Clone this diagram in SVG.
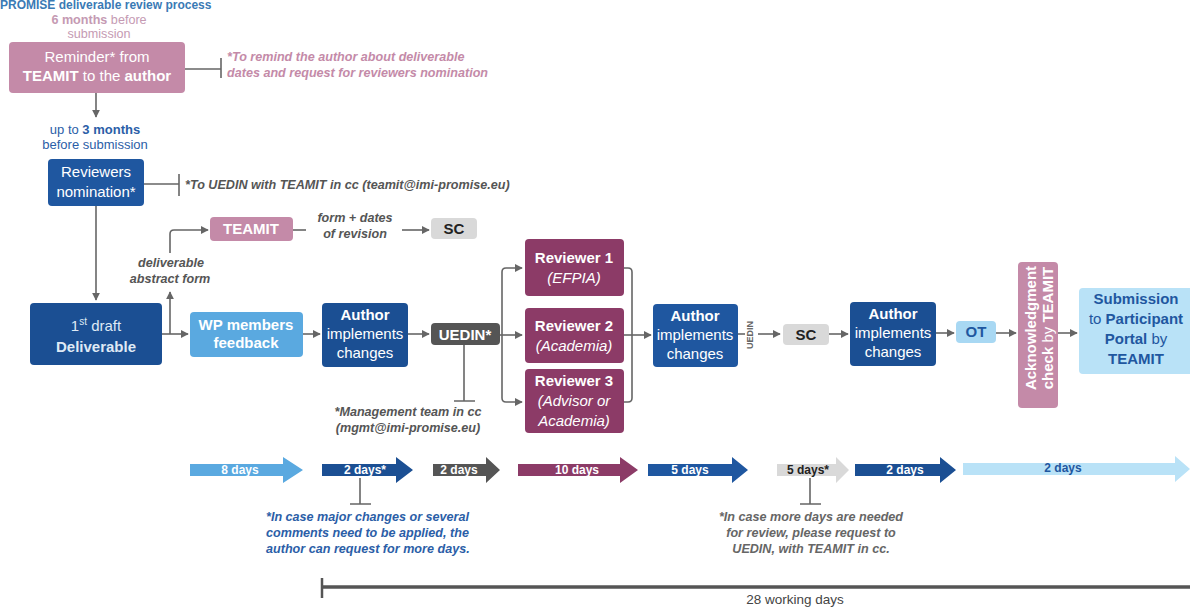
<svg xmlns="http://www.w3.org/2000/svg" width="1190" height="607" viewBox="0 0 1190 607">
<defs>
<style>
text{font-family:"Liberation Sans",Arial,sans-serif}
.b{font-weight:bold}
.box{font-size:15px;fill:#fff;text-anchor:middle}
.note{font-size:12.6px;font-style:italic;font-weight:bold}
.con{fill:none;stroke:#666;stroke-width:1.6}
.tl{fill:#fff;font-size:12px;font-weight:bold;text-anchor:middle}
</style>
<marker id="ah" viewBox="0 0 10 10" refX="9" refY="5" markerWidth="5" markerHeight="5" orient="auto" markerUnits="strokeWidth">
<path d="M0,0 L10,5 L0,10 Z" fill="#666"/>
</marker>
</defs>
<rect width="1190" height="607" fill="#fff"/>
<text x="0" y="9" font-size="12" class="b" fill="#3a7ab5">PROMISE deliverable review process</text>

<g id="connectors">
<path class="con" d="M96 93 V117" marker-end="url(#ah)"/>
<path class="con" d="M185 69 H221 M221 58 V78"/>
<path class="con" d="M144 184 H179 M179 174 V196"/>
<path class="con" d="M96 206 V300" marker-end="url(#ah)"/>
<path class="con" d="M162 334 H188" marker-end="url(#ah)"/>
<path class="con" d="M170 334 V292" marker-end="url(#ah)"/>
<path class="con" d="M170 253 V234 Q170 230 174 230 H208" marker-end="url(#ah)"/>
<path class="con" d="M293 230 H306"/>
<path class="con" d="M402 230 H429" marker-end="url(#ah)"/>
<path class="con" d="M303 334 H320" marker-end="url(#ah)"/>
<path class="con" d="M408 334 H429" marker-end="url(#ah)"/>
<path class="con" d="M464 345 V401 M454 401 H475"/>
<path class="con" d="M500 335 H522" marker-end="url(#ah)"/>
<path class="con" d="M502 335 V272 Q502 268 506 268 H522" marker-end="url(#ah)"/>
<path class="con" d="M502 335 V398 Q502 402 506 402 H522" marker-end="url(#ah)"/>
<path class="con" d="M624 268 H628 Q632 268 632 272 V398 Q632 402 628 402 H624"/>
<path class="con" d="M624 335 H651" marker-end="url(#ah)"/>
<path class="con" d="M738 334 H745"/>
<path class="con" d="M758 334 H780" marker-end="url(#ah)"/>
<path class="con" d="M829 334 H848" marker-end="url(#ah)"/>
<path class="con" d="M936 333 H954" marker-end="url(#ah)"/>
<path class="con" d="M996 333 H1016" marker-end="url(#ah)"/>
<path class="con" d="M1058 333 H1077" marker-end="url(#ah)"/>
<path class="con" d="M360 478 V504 M350 504 H371"/>
<path class="con" d="M810 478 V504 M800 504 H821"/>
</g>

<text x="99" y="24" font-size="12.6" text-anchor="middle" fill="#c59ab3"><tspan class="b">6 months</tspan> before</text>
<text x="99" y="38" font-size="12.6" text-anchor="middle" fill="#c59ab3">submission</text>

<g id="reminder">
<rect x="9" y="42" width="176" height="51" rx="4" fill="#c48aa8"/>
<text class="box" x="97" y="62" font-size="15.5">Reminder* from</text>
<text class="box" x="97" y="81" font-size="15.5"><tspan class="b">TEAMIT</tspan> to the <tspan class="b">author</tspan></text>
</g>
<text class="note" x="227" y="61" fill="#c48aa8">*To remind the author about deliverable</text>
<text class="note" x="227" y="77" fill="#c48aa8">dates and request for reviewers nomination</text>

<text x="95" y="134" font-size="13" text-anchor="middle" fill="#2b5ea7">up to <tspan class="b">3 months</tspan></text>
<text x="95" y="149" font-size="13" text-anchor="middle" fill="#2b5ea7">before submission</text>

<g id="reviewers-nomination">
<rect x="48" y="159" width="96" height="47" rx="4" fill="#1f57a0"/>
<text class="box" x="96" y="177">Reviewers</text>
<text class="box" x="96" y="197">nomination*</text>
</g>
<text class="note" x="185" y="189" fill="#555">*To UEDIN with TEAMIT in cc (teamit@imi-promise.eu)</text>

<g id="teamit">
<rect x="210" y="217" width="83" height="24" rx="4" fill="#c48aa8"/>
<text class="box b" x="251" y="234">TEAMIT</text>
</g>
<text class="note" x="355" y="222" text-anchor="middle" fill="#555">form + dates</text>
<text class="note" x="355" y="238" text-anchor="middle" fill="#555">of revision</text>
<g id="sc1">
<rect x="431" y="218" width="46" height="21" rx="4" fill="#d9d9d9"/>
<text class="box b" x="454" y="234" style="fill:#222">SC</text>
</g>
<text class="note" x="171" y="267" text-anchor="middle" fill="#555">deliverable</text>
<text class="note" x="170" y="283" text-anchor="middle" fill="#555">abstract form</text>

<g id="deliverable">
<rect x="30" y="303" width="132" height="62" rx="4" fill="#1b4f93"/>
<text class="box" x="96" y="331" style="fill:#dfe9f5" font-size="16.5">1<tspan font-size="10" dy="-6">st</tspan><tspan dy="6"> draft</tspan></text>
<text class="box b" x="96" y="352" style="fill:#dfe9f5" font-size="16.5">Deliverable</text>
</g>

<g id="wp-feedback">
<rect x="190" y="312" width="113" height="45" rx="4" fill="#5aa9e0"/>
<text class="box b" x="246" y="330">WP members</text>
<text class="box b" x="246" y="348">feedback</text>
</g>

<g id="author1">
<rect x="322" y="303" width="86" height="64" rx="4" fill="#1b4f93"/>
<text class="box b" x="365" y="320">Author</text>
<text class="box" x="365" y="339">implements</text>
<text class="box" x="365" y="358">changes</text>
</g>

<g id="uedin">
<rect x="431" y="323" width="69" height="22" rx="4" fill="#555"/>
<text class="box b" x="465" y="340">UEDIN*</text>
</g>
<text class="note" x="408" y="416" text-anchor="middle" fill="#555">*Management team in cc</text>
<text class="note" x="408" y="432" text-anchor="middle" fill="#555">(mgmt@imi-promise.eu)</text>

<g id="reviewer1">
<rect x="525" y="239" width="99" height="57" rx="4" fill="#8c3b67"/>
<text class="box b" x="574" y="263">Reviewer 1</text>
<text class="box" x="574" y="283" font-style="italic">(EFPIA)</text>
</g>
<g id="reviewer2">
<rect x="525" y="308" width="99" height="55" rx="4" fill="#8c3b67"/>
<text class="box b" x="574" y="331">Reviewer 2</text>
<text class="box" x="574" y="351" font-style="italic">(Academia)</text>
</g>
<g id="reviewer3">
<rect x="525" y="369" width="99" height="64" rx="4" fill="#8c3b67"/>
<text class="box b" x="574" y="386">Reviewer 3</text>
<text class="box" x="574" y="406" font-style="italic">(Advisor or</text>
<text class="box" x="574" y="426" font-style="italic">Academia)</text>
</g>

<g id="author2">
<rect x="653" y="304" width="85" height="63" rx="4" fill="#1f57a0"/>
<text class="box b" x="695" y="321">Author</text>
<text class="box" x="695" y="340">implements</text>
<text class="box" x="695" y="359">changes</text>
</g>
<text transform="translate(753,335) rotate(-90)" font-size="9" class="b" fill="#666" text-anchor="middle">UEDIN</text>

<g id="sc2">
<rect x="783" y="324" width="46" height="21" rx="4" fill="#d9d9d9"/>
<text class="box b" x="806" y="340" style="fill:#222">SC</text>
</g>

<g id="author3">
<rect x="850" y="302" width="86" height="64" rx="4" fill="#1b4f93"/>
<text class="box b" x="893" y="319">Author</text>
<text class="box" x="893" y="338">implements</text>
<text class="box" x="893" y="357">changes</text>
</g>

<g id="ot">
<rect x="956" y="321" width="40" height="22" rx="4" fill="#a8d8f3"/>
<text class="box b" x="976" y="337" style="fill:#1f57a0">OT</text>
</g>

<g id="acknowledgment">
<rect x="1018" y="262" width="40" height="146" rx="4" fill="#c48aa8"/>
<text transform="translate(1038,328) rotate(-90)" class="box b"><tspan x="0" y="-2">Acknowledgment</tspan><tspan x="0" y="15">check <tspan font-weight="normal">by</tspan> TEAMIT</tspan></text>
</g>

<g id="submission">
<rect x="1079" y="288" width="115" height="86" rx="4" fill="#b9e2f7"/>
<text class="box b" x="1136" y="304" style="fill:#1f57a0" font-size="15.5">Submission</text>
<text class="box" x="1136" y="324" style="fill:#1f57a0" font-size="15.5">to <tspan class="b">Participant</tspan></text>
<text class="box" x="1136" y="344" style="fill:#1f57a0" font-size="15.5"><tspan class="b">Portal</tspan> by</text>
<text class="box b" x="1136" y="364" style="fill:#1f57a0" font-size="15.5">TEAMIT</text>
</g>

<g id="timeline">
<path d="M190 464 H283 V457 L303 470 L283 483 V476 H190 Z" fill="#5aa9e0"/>
<text class="tl" x="240" y="474">8 days</text>
<path d="M322 464 H396 V457 L413 470 L396 483 V476 H322 Z" fill="#1b4f93"/>
<text class="tl" x="365" y="474">2 days*</text>
<path d="M433 464 H486 V457 L500 470 L486 483 V476 H433 Z" fill="#555"/>
<text class="tl" x="459" y="474">2 days</text>
<path d="M518 464 H620 V457 L638 470 L620 483 V476 H518 Z" fill="#8c3b67"/>
<text class="tl" x="577" y="474">10 days</text>
<path d="M648 464 H732 V457 L748 470 L732 483 V476 H648 Z" fill="#1f57a0"/>
<text class="tl" x="690" y="474">5 days</text>
<path d="M777 464 H836 V457 L849 470 L836 483 V476 H777 Z" fill="#d9d9d9"/>
<text class="tl" x="808" y="474" style="fill:#222">5 days*</text>
<path d="M855 464 H940 V457 L956 470 L940 483 V476 H855 Z" fill="#1b4f93"/>
<text class="tl" x="905" y="474">2 days</text>
<path d="M963 463 H1175 V456 L1190 469 L1175 482 V475 H963 Z" fill="#b9e2f7"/>
<text class="tl" x="1063" y="472" style="fill:#1f57a0">2 days</text>
</g>

<text class="note" x="266" y="521" fill="#2b5ea7">*In case major changes or several</text>
<text class="note" x="266" y="537" fill="#2b5ea7">comments need to be applied, the</text>
<text class="note" x="266" y="553" fill="#2b5ea7">author can request for more days.</text>

<text class="note" x="811" y="521" text-anchor="middle" fill="#666">*In case more days are needed</text>
<text class="note" x="811" y="537" text-anchor="middle" fill="#666">for review, please request to</text>
<text class="note" x="811" y="553" text-anchor="middle" fill="#666">UEDIN, with TEAMIT in cc.</text>

<g id="duration">
<path d="M322 587 H1190" stroke="#555" stroke-width="3.5" fill="none"/>
<path d="M322 578 V598" stroke="#555" stroke-width="2.5" fill="none"/>
<text x="795" y="604" font-size="13.5" text-anchor="middle" fill="#444">28 working days</text>
</g>
</svg>
